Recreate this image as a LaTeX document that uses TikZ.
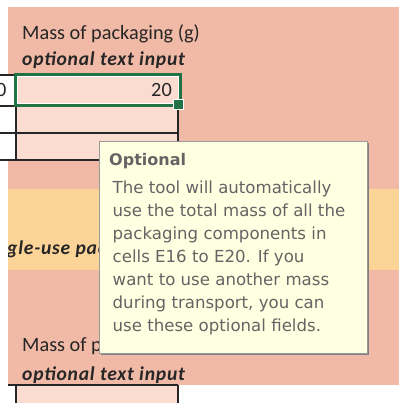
\documentclass[tikz,border=0pt]{standalone}
\usepackage{fontspec}
\setmainfont{Carlito}
\newfontfamily\hintfont{Carlito}[LetterSpace=4]
\newfontfamily\tipfont{DejaVu Sans}
\usetikzlibrary{positioning,shadows}

\definecolor{sheetbg}{RGB}{241,186,166}
\definecolor{cellbg}{RGB}{250,220,209}
\definecolor{bandbg}{RGB}{253,212,152}
\definecolor{tipbg}{RGB}{255,255,225}
\definecolor{tipgray}{RGB}{100,100,100}
\definecolor{selgreen}{RGB}{33,115,70}

\begin{document}
\begin{tikzpicture}[x=1pt, y=-1pt,
    gridline/.style={draw=black!85, line width=1.1pt},
    label/.style={anchor=base west, inner sep=0pt, text=black!85, font=\fontsize{20.3}{24}\selectfont},
    hint/.style={label, font=\hintfont\fontsize{19.6}{24}\selectfont\bfseries\itshape},
    tipbox/.style={draw=black!40, fill=tipbg, line width=0.8pt, anchor=north west, minimum width=268pt, minimum height=212pt, inner sep=0pt,
      drop shadow={shadow xshift=2pt, shadow yshift=-2pt, opacity=1, fill=black!50}},
    tiptext/.style={inner sep=0pt, text=tipgray, align=left}
  ]
  \useasboundingbox[fill=white] (0,0) rectangle (398,403);
  \fill[sheetbg] (8,7) rectangle (402,385);
  \fill[bandbg] (8,189) rectangle (402,270);
  \fill[white] (0,75) rectangle (16,160);
  \fill[cellbg] (16,75) rectangle (178,160);
  \fill[cellbg] (16,385) rectangle (178,405);

  \draw[gridline] (0,106) -- (178,106) (0,133) -- (178,133) (0,160) -- (178,160);
  \draw[gridline] (0,75) -- (16,75) (16,75) -- (16,160) (178,106) -- (178,160);
  \draw[gridline] (8,385) -- (178,385) (16,385) -- (16,405) (178,385) -- (178,405);

  % selected cell
  \draw[selgreen, line width=2.6pt] (15.5,74.5) rectangle (180.5,105.5);
  \draw[white, line width=0.7pt] (17.5,76.5) rectangle (178.5,103.5);
  \filldraw[fill=selgreen, draw=white, line width=0.6pt] (173,99) rectangle (183,109);

  \node[label] (mass) at (22,39.5) {Mass of packaging (g)};
  \node[hint] (optin) at (22,66) {optional text input};
  \node[label, anchor=base east] (val) at (172,96.7) {20};
  \node[label, anchor=base east] (prev) at (6.5,96.7) {0};
  \begin{scope}
    \clip (8,189) rectangle (398,270);
    \node[hint] (band) at (7,254) {gle-use pac};
  \end{scope}
  \node[label] (mass2) at (22,351.7) {Mass of p};
  \node[hint] (optin2) at (22,380) {optional text input};

  % tooltip
  \node[tipbox] (tip) at (99,141) {};
  \node[tiptext, anchor=base west, font=\tipfont\fontsize{16}{23}\selectfont\bfseries] (tiphead) at (109,165.7) {Optional};
  \node[tiptext, anchor=north west, font=\tipfont\fontsize{16.6}{23}\selectfont] (tipbody) at (112.5,180.3)
    {The tool will automatically\\use the total mass of all the\\packaging components in\\cells E16 to E20. If you\\want to use another mass\\during transport, you can\\use these optional fields.};
\end{tikzpicture}
\end{document}
